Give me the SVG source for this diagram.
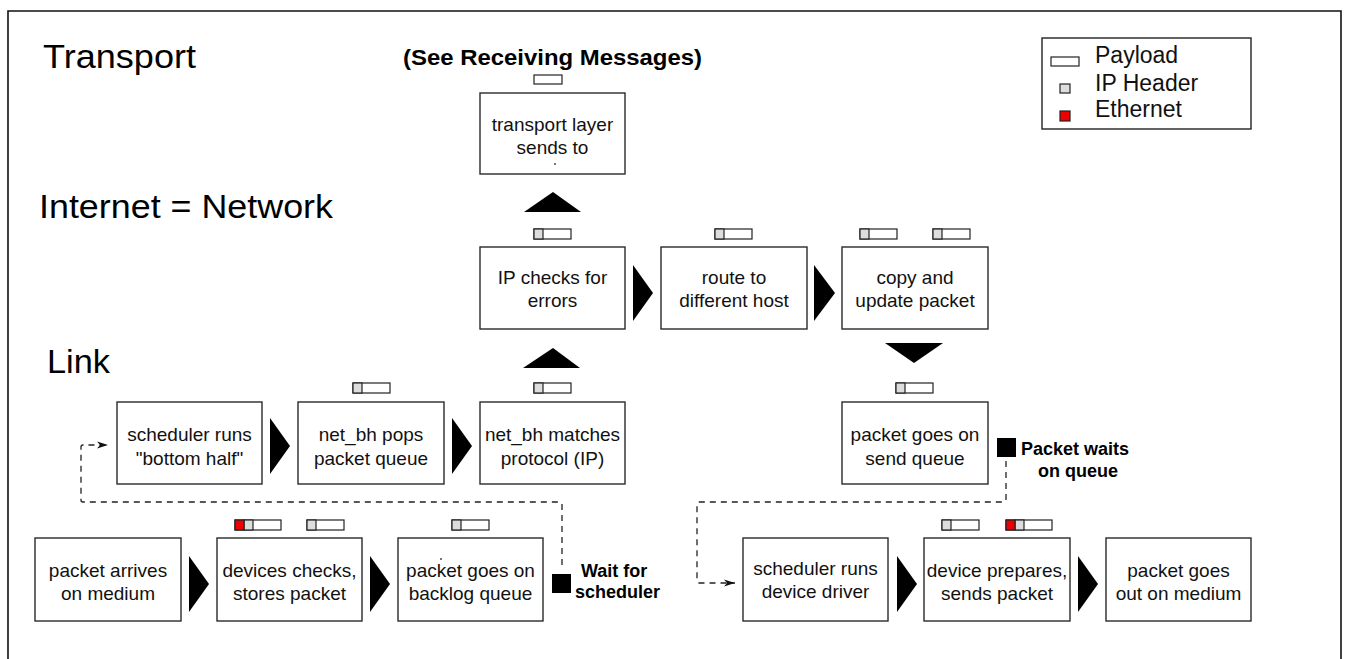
<svg xmlns="http://www.w3.org/2000/svg" width="1346" height="659" viewBox="0 0 1346 659">
<style>
.box{fill:#fff;stroke:#2a2a2a;stroke-width:1.4}
.t{font-family:"Liberation Sans",Arial,sans-serif;font-size:19px;fill:#111;text-anchor:middle}
.layer{font-family:"Liberation Sans",Arial,sans-serif;font-size:34px;fill:#000}
.bold{font-family:"Liberation Sans",Arial,sans-serif;font-weight:bold;font-size:18px;fill:#000}
.leg{font-family:"Liberation Sans",Arial,sans-serif;font-size:23px;fill:#111}
.arr{fill:#000}
.pl{fill:#fff;stroke:#222;stroke-width:1.2}
.ip{fill:#ddd;stroke:#222;stroke-width:1.2}
.eth{fill:#e00;stroke:#222;stroke-width:1.2}
.dash{fill:none;stroke:#222;stroke-width:1.3;stroke-dasharray:6 5}
</style>
<defs>
<marker id="ah" markerWidth="12" markerHeight="8" refX="11" refY="4" orient="auto" markerUnits="userSpaceOnUse">
<path d="M0,0.5 L11,4 L0,7.5 L3,4 Z" fill="#111"/>
</marker>
<g id="pk">
<rect class="pl" x="0" y="0" width="37" height="10"/>
<rect class="ip" x="0" y="0" width="9" height="10"/>
</g>
<g id="pke">
<rect class="pl" x="0" y="0" width="46" height="10"/>
<rect class="ip" x="9" y="0" width="9" height="10"/>
<rect class="eth" x="0" y="0" width="9" height="10"/>
</g>
</defs>
<rect width="1346" height="659" fill="#fff"/>
<path d="M8,665 V11 H1341 V665" fill="none" stroke="#111" stroke-width="1.6"/>

<g id="labels">
<text class="layer" x="43" y="68" textLength="153" lengthAdjust="spacingAndGlyphs">Transport</text>
<text class="layer" x="39" y="218" textLength="294" lengthAdjust="spacingAndGlyphs">Internet = Network</text>
<text class="layer" x="47" y="373" textLength="63" lengthAdjust="spacingAndGlyphs">Link</text>
<text class="bold" x="403" y="65" style="font-size:22px" textLength="299" lengthAdjust="spacingAndGlyphs">(See Receiving Messages)</text>
</g>

<g id="legend">
<rect x="1042" y="38" width="209" height="91" fill="#fff" stroke="#222" stroke-width="1.4"/>
<rect class="pl" x="1051" y="57" width="28" height="9"/>
<rect class="ip" x="1060" y="84" width="10" height="9"/>
<rect class="eth" x="1060" y="111" width="10" height="10"/>
<text class="leg" x="1095" y="63">Payload</text>
<text class="leg" x="1095" y="91">IP Header</text>
<text class="leg" x="1095" y="117">Ethernet</text>
</g>

<g id="packets">
<rect class="pl" x="534" y="75" width="28" height="9"/>
<use href="#pk" x="534" y="229"/>
<use href="#pk" x="715" y="229"/>
<use href="#pk" x="860" y="229"/>
<use href="#pk" x="933" y="229"/>
<use href="#pk" x="353" y="383"/>
<use href="#pk" x="534" y="383"/>
<use href="#pk" x="896" y="383"/>
<use href="#pke" x="235" y="520"/>
<use href="#pk" x="307" y="520"/>
<use href="#pk" x="452" y="520"/>
<use href="#pk" x="942" y="520"/>
<use href="#pke" x="1006" y="520"/>
</g>

<g id="node-transport">
<rect class="box" x="480" y="93" width="145" height="81"/>
<text class="t" x="552.5" y="131">transport layer</text>
<text class="t" x="552.5" y="154">sends to</text>
<circle cx="555" cy="164" r="0.9" fill="#333"/>
</g>
<g id="node-ipcheck">
<rect class="box" x="480" y="247" width="145" height="82"/>
<text class="t" x="552.5" y="284">IP checks for</text>
<text class="t" x="552.5" y="307">errors</text>
</g>
<g id="node-route">
<rect class="box" x="661" y="247" width="146" height="82"/>
<text class="t" x="734" y="284">route to</text>
<text class="t" x="734" y="307">different host</text>
</g>
<g id="node-copy">
<rect class="box" x="842" y="247" width="146" height="82"/>
<text class="t" x="915" y="284">copy and</text>
<text class="t" x="915" y="307">update packet</text>
</g>
<g id="node-sched-bh">
<rect class="box" x="117" y="402" width="145" height="82"/>
<text class="t" x="189.5" y="441">scheduler runs</text>
<text class="t" x="189.5" y="465">"bottom half"</text>
</g>
<g id="node-netbh-pops">
<rect class="box" x="298" y="402" width="146" height="82"/>
<text class="t" x="371" y="441">net_bh pops</text>
<text class="t" x="371" y="465">packet queue</text>
</g>
<g id="node-netbh-match">
<rect class="box" x="480" y="402" width="145" height="82"/>
<text class="t" x="552.5" y="441">net_bh matches</text>
<text class="t" x="552.5" y="465">protocol (IP)</text>
</g>
<g id="node-sendq">
<rect class="box" x="842" y="402" width="146" height="82"/>
<text class="t" x="915" y="441">packet goes on</text>
<text class="t" x="915" y="465">send queue</text>
</g>
<g id="node-arrives">
<rect class="box" x="35" y="538" width="146" height="83"/>
<text class="t" x="108" y="577">packet arrives</text>
<text class="t" x="108" y="600">on medium</text>
</g>
<g id="node-devchecks">
<rect class="box" x="217" y="538" width="145" height="83"/>
<text class="t" x="289.5" y="577">devices checks,</text>
<text class="t" x="289.5" y="600">stores packet</text>
</g>
<g id="node-backlog">
<rect class="box" x="398" y="538" width="145" height="83"/>
<circle cx="441" cy="559" r="0.9" fill="#333"/>
<text class="t" x="470.5" y="577">packet goes on</text>
<text class="t" x="470.5" y="600">backlog queue</text>
</g>
<g id="node-sched-dd">
<rect class="box" x="743" y="538" width="145" height="83"/>
<text class="t" x="815.5" y="575">scheduler runs</text>
<text class="t" x="815.5" y="598">device driver</text>
</g>
<g id="node-devprep">
<rect class="box" x="924" y="538" width="146" height="83"/>
<text class="t" x="997" y="577">device prepares,</text>
<text class="t" x="997" y="600">sends packet</text>
</g>
<g id="node-out">
<rect class="box" x="1106" y="538" width="145" height="83"/>
<text class="t" x="1178.5" y="577">packet goes</text>
<text class="t" x="1178.5" y="600">out on medium</text>
</g>

<g id="wait-scheduler">
<rect x="552" y="574" width="19" height="19" fill="#000"/>
<text class="bold" x="581" y="577">Wait for</text>
<text class="bold" x="575" y="598">scheduler</text>
</g>
<g id="wait-queue">
<rect x="997" y="438" width="19" height="19" fill="#000"/>
<text class="bold" x="1021" y="455">Packet waits</text>
<text class="bold" x="1038" y="477">on queue</text>
</g>

<g id="connectors">
<path class="arr" d="M524,212 L553,192 L581,212 Z"/>
<path class="arr" d="M523,368 L553,348 L580,368 Z"/>
<path class="arr" d="M885,343 L943,343 L914,363 Z"/>
<path class="arr" d="M633,265 L653,293 L633,321 Z"/>
<path class="arr" d="M814,265 L835,293 L814,321 Z"/>
<path class="arr" d="M270,418 L290,446 L270,474 Z"/>
<path class="arr" d="M452,418 L472,446 L452,474 Z"/>
<path class="arr" d="M189,556 L209,584 L189,612 Z"/>
<path class="arr" d="M370,556 L390,584 L370,612 Z"/>
<path class="arr" d="M897,556 L917,584 L897,612 Z"/>
<path class="arr" d="M1078,556 L1098,584 L1078,612 Z"/>
<path class="dash" d="M562,565 V504 Q562,502 560,502 H83 Q81,502 81,500 V447 Q81,445 83,445 H108" marker-end="url(#ah)"/>
<path class="dash" d="M1006,461 V500 Q1006,502 1004,502 H699 Q697,502 697,504 V581 Q697,583 699,583 H735" marker-end="url(#ah)"/>
</g>
</svg>
